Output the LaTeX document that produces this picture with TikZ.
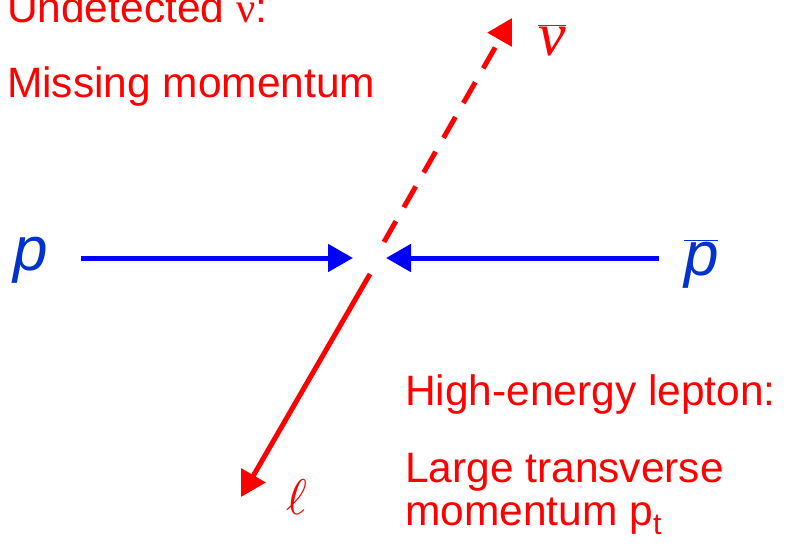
\documentclass[tikz,border=0pt]{standalone}
\usepackage{fontspec}
\setmainfont{Liberation Sans}
\newfontfamily\timesf{Liberation Serif}
\usetikzlibrary{arrows.meta}
\definecolor{pblue}{RGB}{0,51,204}
\tikzset{
  lbl/.style={anchor=base west, inner sep=0pt, outer sep=0pt, text=red, font=\fontsize{42.5}{42.5}\selectfont},
  plbl/.style={anchor=base west, inner sep=0pt, outer sep=0pt, text=pblue, font=\fontsize{62}{62}\selectfont\itshape},
  beam/.style={draw=blue, line width=5pt, -{Triangle[length=25pt,width=27pt]}},
  lep/.style={draw=red, line width=5pt, -{Triangle[length=25pt,width=27pt]}},
  nustyle/.style={draw=red, line width=5pt, dash pattern=on 24pt off 16pt, -{Triangle[length=25pt,width=27pt]}}
}
\begin{document}
\begin{tikzpicture}[x=1pt,y=-1pt]
\useasboundingbox (0,0) rectangle (788,547);
% labels
\node[lbl] (undet) at (7,22) {Undetected {\timesf ν}:};
\node[lbl] (miss) at (7,97) {Missing momentum};
\node[lbl] (high) at (405,405) {High-energy lepton:};
\node[lbl] (large) at (405,482) {Large transverse};
\node[lbl] (mom) at (405,525) {momentum p\raisebox{-9pt}{\fontsize{30}{30}\selectfont t}};
\node[plbl] (p) at (13,270) {p};
\node[plbl] (pbar) at (684,275) {$\overline{\hbox{p}}$};
\node[anchor=base west, inner sep=0pt, text=red, font=\timesf\itshape\fontsize{62}{62}\selectfont] (nubar) at (538,55) {$\overline{\hbox{ν}}$};
\node[anchor=base west, inner sep=0pt, text=red] (ell) at (286,514) {\scalebox{5}{$\ell$}};
% connectors
\coordinate (pstart) at (81,258);
\coordinate (ptip) at (353,258);
\coordinate (pbstart) at (659,258);
\coordinate (pbtip) at (386,258);
\coordinate (nustart) at (384,242);
\coordinate (nutip) at (512,18);
\coordinate (lstart) at (370,274);
\coordinate (ltip) at (241,497);
\draw[beam] (pstart) -- (ptip);
\draw[beam] (pbstart) -- (pbtip);
\draw[nustyle] (nustart) -- (nutip);
\draw[lep] (lstart) -- (ltip);
\end{tikzpicture}
\end{document}
